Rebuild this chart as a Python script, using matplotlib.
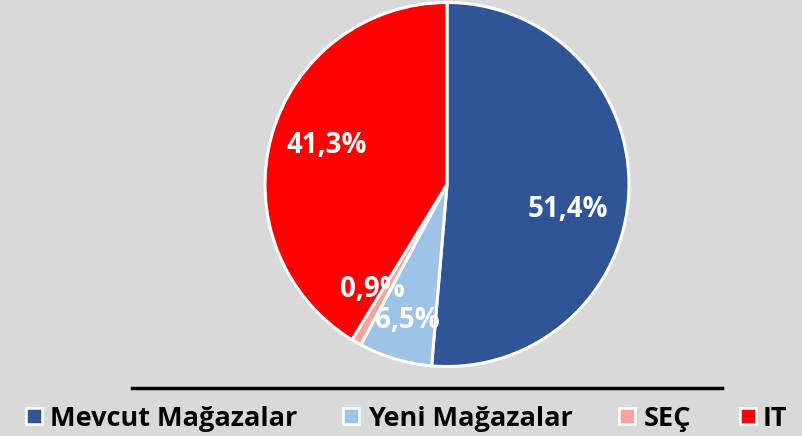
import matplotlib.pyplot as plt
from matplotlib.patches import Rectangle
from matplotlib.lines import Line2D

labels = ['Mevcut Mağazalar', 'Yeni Mağazalar', 'SEÇ', 'IT']
values = [51.4, 6.5, 0.9, 41.3]
colors = ['#2F5597', '#9DC3E6', '#F4A49A', '#FF0000']

plt.rcParams['font.family'] = ['Open Sans', 'DejaVu Sans']

bg = '#D9D9D9'
W, H = 803, 436
fig = plt.figure(figsize=(W / 100, H / 100), dpi=100, facecolor=bg)
cx, cy, r = 447, 184.5, 182
ax = fig.add_axes([(cx - r) / W, 1 - (cy + r) / H, 2 * r / W, 2 * r / H])
ax.set_facecolor(bg)

wedges, texts = ax.pie(values, colors=colors, startangle=90, counterclock=False,
                       wedgeprops=dict(edgecolor='white', linewidth=2.2))
ax.set_xlim(-1, 1)
ax.set_ylim(-1, 1)
ax.set_aspect('equal')

# label spots (fraction of radius)
label_pos = [(0.665, -0.135), (-0.22, -0.75), (-0.41, -0.575), (-0.66, 0.215)]
for v, (lx, ly) in zip(values, label_pos):
    ax.text(lx, ly, f'{v:.1f}%'.replace('.', ','), ha='center', va='center',
            color='white', fontsize=20, fontweight='bold')

# black rule above the legend
fig.add_artist(Line2D([132 / W, 722 / W], [1 - 388 / H] * 2, color='black', lw=2.5))

# legend drawn by hand to match the spacing
marker_x = [26, 343, 619, 740]
text_x = [50, 368, 644, 763]
ly = 1 - 416 / H
for c, lab, mx, tx in zip(colors, labels, marker_x, text_x):
    fig.add_artist(Rectangle((mx / W, ly - 8 / H), 16 / W, 16 / H, facecolor=c,
                             edgecolor='white', lw=1.8, transform=fig.transFigure))
    fig.text(tx / W, ly, lab, ha='left', va='center_baseline', fontsize=19.5,
             fontweight='bold', color='black')

fig.savefig('out.png', dpi=100, facecolor=bg)
